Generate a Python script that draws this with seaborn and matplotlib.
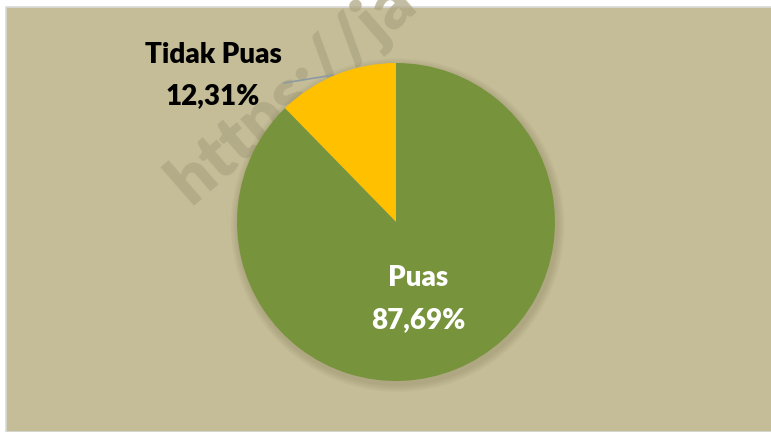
import matplotlib
matplotlib.use("Agg")
import matplotlib.pyplot as plt
import seaborn as sns
from matplotlib.patches import Rectangle, Circle

sns.set_theme(style="white")
plt.rcParams['font.family'] = ['Lato', 'DejaVu Sans']

categories = ["Tidak Puas", "Puas"]
values = [12.31, 87.69]
value_labels = ["12,31%", "87,69%"]
colors = ["#FFC000", "#77933C"]

W, H = 771, 432
fig = plt.figure(figsize=(W / 100, H / 100), dpi=100, facecolor="white")

# chart area background
fig.patches.append(Rectangle((6 / W, 0), 1, (H - 7) / H, transform=fig.transFigure,
                             facecolor="#C4BD97", edgecolor="#D9D9D9", linewidth=1.2, zorder=-3))

# watermark (behind the pie)
fig.text(292 / W, (H - 92) / H, "https://ja", fontsize=50, fontweight="heavy",
         color="#AEA683", alpha=0.75, rotation=41, ha="center", va="center",
         zorder=-2, rotation_mode="anchor")

cx, cy, r = 396, 222, 159
ax = fig.add_axes([(cx - r) / W, (H - cy - r) / H, 2 * r / W, 2 * r / H])
ax.axis("off")
ax.patch.set_alpha(0)

# soft shadow
for i in range(4):
    ax.add_patch(Circle((0.01, -0.02), 1.0 + 0.012 * (4 - i), color="#5a5230", alpha=0.05,
                        lw=0, zorder=0, clip_on=False))

wedges, _ = ax.pie(values, colors=colors, startangle=90, counterclock=True,
                   radius=1, wedgeprops=dict(linewidth=0, zorder=1))
for w in wedges:
    w.set_clip_on(False)
ax.set_xlim(-1, 1)
ax.set_ylim(-1, 1)
ax.set_aspect("equal")

def px(x, y):
    return ((x - cx) / r, (cy - y) / r)

# leader line for Tidak Puas
lx0, ly0 = px(284, 83)
lx1, ly1 = px(333, 75)
ax.plot([lx0, lx1], [ly0, ly1], color="#8D9AA3", lw=1.2, clip_on=False, zorder=2)

fs = 20
fw = "heavy"
tx, ty = px(213, 55)
ax.text(tx, ty, categories[0], fontsize=fs, fontweight=fw, color="black",
        ha="center", va="center", zorder=3)
tx, ty = px(213, 96)
ax.text(tx, ty, value_labels[0], fontsize=fs, fontweight=fw, color="black",
        ha="center", va="center", zorder=3)

tx, ty = px(418, 278)
ax.text(tx, ty, categories[1], fontsize=fs, fontweight=fw, color="white",
        ha="center", va="center", zorder=3)
tx, ty = px(418, 320)
ax.text(tx, ty, value_labels[1], fontsize=fs, fontweight=fw, color="white",
        ha="center", va="center", zorder=3)

fig.savefig("out.png", dpi=100, facecolor="white")
